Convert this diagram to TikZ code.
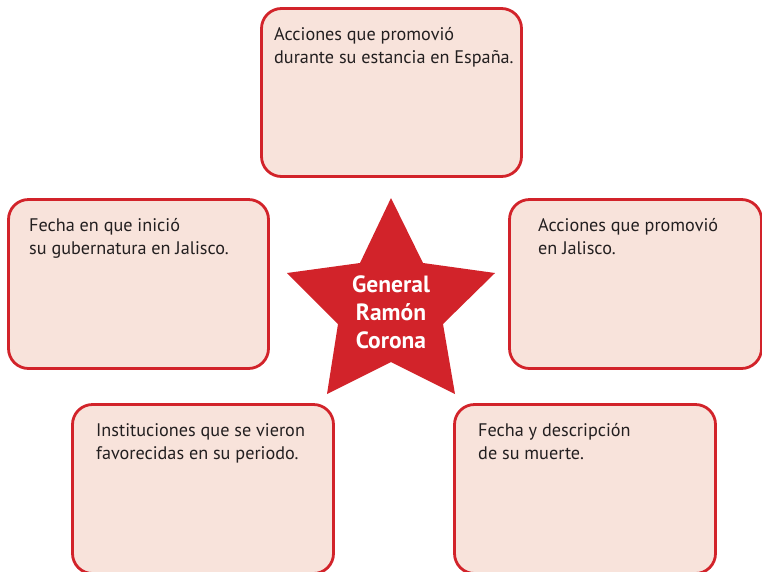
\documentclass[tikz,border=0pt]{standalone}
\usepackage{fontspec}
\setmainfont{PT Sans}
\definecolor{boxred}{HTML}{D2232A}
\definecolor{boxfill}{HTML}{F8E3DB}
\definecolor{txtgray}{HTML}{231F20}
\begin{document}
\begin{tikzpicture}[x=1pt,y=-1pt,
  box/.style={draw=boxred, fill=boxfill, line width=2.8pt, rounded corners=20pt, inner sep=0pt},
  lbl/.style={anchor=base west, inner sep=0pt, text=txtgray, font=\fontsize{18.2}{23}\selectfont, align=left},
  startxt/.style={anchor=base, inner sep=0pt, text=white, font=\bfseries\fontsize{23.5}{28}\selectfont, align=center},
  starfill/.style={fill=boxred}
]
\useasboundingbox (0,0) rectangle (762,571);

% boxes
\node[box, minimum width=260pt, minimum height=168pt] (btop) at (391.5,92.5) {};
\node[box, minimum width=260pt, minimum height=169pt] (bleft) at (138.5,284) {};
\node[box, minimum width=252pt, minimum height=169pt] (bright) at (635.5,284) {};
\node[box, minimum width=261pt, minimum height=169pt] (bbl) at (203,489) {};
\node[box, minimum width=261pt, minimum height=169pt] (bbr) at (585,489) {};

% texts (anchor base = baseline of last line)
\node[lbl] (ttop) at (274,63) {Acciones que promovió\\durante su estancia en España.};
\node[lbl] (tleft) at (29,254) {Fecha en que inició\\su gubernatura en Jalisco.};
\node[lbl] (tright) at (538,254) {Acciones que promovió\\en Jalisco.};
\node[lbl] (tbl) at (96,459) {Instituciones que se vieron\\favorecidas en su periodo.};
\node[lbl] (tbr) at (478,459) {Fecha y descripción\\de su muerte.};

% star
\fill[starfill] (391,198) -- (423,263) -- (495,273) -- (443,324) -- (455,394)
  -- (391,362) -- (327,394) -- (338,324) -- (287,273) -- (360,263) -- cycle;
\node[startxt] (tstar) at (391,348) {General\\Ramón\\Corona};
\end{tikzpicture}
\end{document}
